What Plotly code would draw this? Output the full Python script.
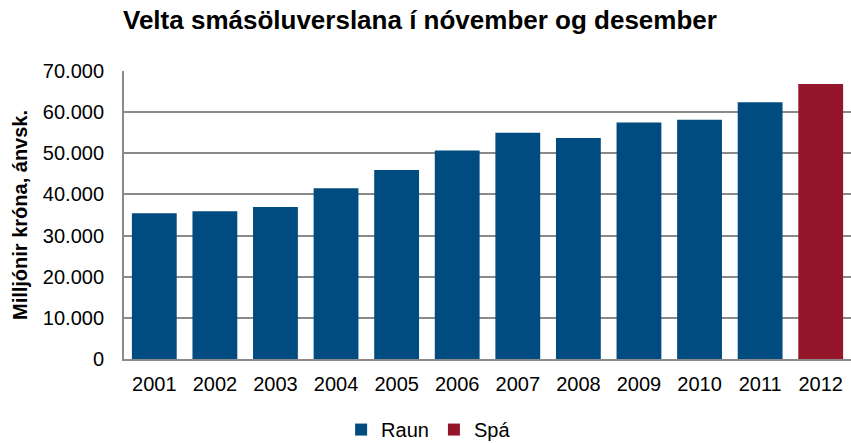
import plotly.graph_objects as go

years = ["2001", "2002", "2003", "2004", "2005", "2006", "2007", "2008", "2009", "2010", "2011", "2012"]
raun_years = years[:11]
raun_values = [35400, 35900, 36950, 41500, 45950, 50650, 55000, 53700, 57500, 58150, 62400]
spa_years = years[11:]
spa_values = [66850]
ytick_vals = [0, 10000, 20000, 30000, 40000, 50000, 60000, 70000]
ytick_text = ["0", "10.000", "20.000", "30.000", "40.000", "50.000", "60.000", "70.000"]

FONT = "Liberation Sans, Arial, sans-serif"
BLUE = "#004B7F"
RED = "#95162A"

fig = go.Figure()
fig.add_trace(go.Bar(x=raun_years, y=raun_values, name="Raun", marker_color=BLUE,
                     marker_line_width=0))
fig.add_trace(go.Bar(x=spa_years, y=spa_values, name="Spá", marker_color=RED,
                     marker_line_width=0))

fig.update_layout(
    width=851, height=443,
    margin=dict(l=124, r=0, t=71, b=84, autoexpand=False),
    paper_bgcolor="white", plot_bgcolor="white",
    font=dict(family=FONT, color="black", size=20),
    barmode="overlay",
    bargap=0.26,
    title=dict(text="<b>Velta smásöluverslana í nóvember og desember</b>",
               x=0.4935, xanchor="center", y=0.955, yanchor="middle",
               font=dict(size=26, family=FONT, color="black")),
    showlegend=True,
    legend=dict(orientation="h", x=0.419, xanchor="center", y=-0.245, yanchor="middle",
                font=dict(size=20, family=FONT), itemwidth=30, traceorder="normal",
                tracegroupgap=0),
    xaxis=dict(type="category", categoryorder="array", categoryarray=years,
               showline=True, linecolor="#8a8a8a", linewidth=2,
               ticks="outside", ticklen=6, tickcolor="rgba(0,0,0,0)",
               tickfont=dict(size=20, family=FONT), showgrid=False),
    yaxis=dict(range=[0, 70000], tickvals=ytick_vals, ticktext=ytick_text,
               showline=True, linecolor="#8a8a8a", linewidth=2,
               showgrid=True, gridcolor="#8a8a8a", gridwidth=1.5,
               zeroline=False, ticks="outside", ticklen=14, tickcolor="rgba(0,0,0,0)",
               tickfont=dict(size=20, family=FONT),
               title=dict(text="<b>Milljónir króna, ánvsk.</b>",
                          font=dict(size=20, family=FONT), standoff=10)),
)

fig.write_html("out.html", config={"displayModeBar": False},
               post_script="document.body.style.margin='0';")
